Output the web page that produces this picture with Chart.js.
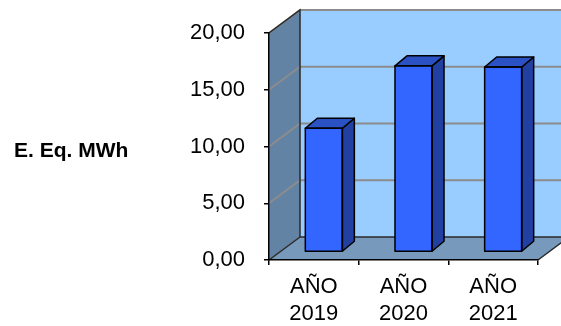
<!DOCTYPE html>
<html>
<head>
<meta charset="utf-8">
<script src="https://cdn.jsdelivr.net/npm/chart.js@4/dist/chart.umd.min.js"></script>
<style>
  html, body { margin: 0; padding: 0; background: #ffffff; }
  #wrap { width: 561px; height: 326px; }
</style>
</head>
<body>
<div id="wrap"><canvas id="c" width="561" height="326"></canvas></div>
<script>
// Energy per year
const categories = [['AÑO', '2019'], ['AÑO', '2020'], ['AÑO', '2021']];
const energyMWh = [10.9, 16.4, 16.3];
const yTicks = [0, 5, 10, 15, 20];
const axisTitle = 'E. Eq. MWh';

const FONT = "'Liberation Sans', Arial, Helvetica, sans-serif";

// Depth of the side wall / floor box, and of each bar
const WALL_DX = 31, WALL_DY = -23;
const BAR_SHIFT_X = 10, BAR_SHIFT_Y = -8;
const BAR_DX = 12, BAR_DY = -10;

const fmt = v => v.toFixed(2).replace('.', ',');

// Back wall, side wall and floor of the 3-D box
const wallsPlugin = {
  id: 'walls',
  beforeDraw(chart) {
    const { ctx, chartArea: a, scales: { y } } = chart;
    const L = a.left, R = a.right, T = a.top, B = a.bottom;
    ctx.save();
    ctx.lineJoin = 'miter';

    // back wall
    ctx.fillStyle = '#99CCFF';
    ctx.fillRect(L + WALL_DX, T + WALL_DY, R - L, B - T);

    // left side wall
    ctx.beginPath();
    ctx.moveTo(L, T);
    ctx.lineTo(L + WALL_DX, T + WALL_DY);
    ctx.lineTo(L + WALL_DX, B + WALL_DY);
    ctx.lineTo(L, B);
    ctx.closePath();
    ctx.fillStyle = '#6383A4';
    ctx.fill();

    // floor
    ctx.beginPath();
    ctx.moveTo(L, B);
    ctx.lineTo(L + WALL_DX, B + WALL_DY);
    ctx.lineTo(R + WALL_DX, B + WALL_DY);
    ctx.lineTo(R, B);
    ctx.closePath();
    ctx.fillStyle = '#7799BB';
    ctx.fill();

    // gridlines on side wall and back wall
    ctx.strokeStyle = '#8C8C8C';
    ctx.lineWidth = 2;
    yTicks.forEach(v => {
      if (v === yTicks[0]) return;
      const py = y.getPixelForValue(v);
      ctx.beginPath();
      ctx.moveTo(L, py);
      ctx.lineTo(L + WALL_DX, py + WALL_DY);
      ctx.lineTo(R + WALL_DX, py + WALL_DY);
      ctx.stroke();
    });

    // box edges
    ctx.strokeStyle = '#2A2A2A';
    ctx.lineWidth = 1.5;
    ctx.beginPath();
    ctx.moveTo(L, T);
    ctx.lineTo(L + WALL_DX, T + WALL_DY);
    ctx.lineTo(L + WALL_DX, B + WALL_DY);
    ctx.lineTo(R + WALL_DX, B + WALL_DY);
    ctx.moveTo(L + WALL_DX, B + WALL_DY);
    ctx.lineTo(L, B);
    ctx.moveTo(R, B);
    ctx.lineTo(R + WALL_DX, B + WALL_DY);
    ctx.stroke();
    ctx.restore();
  }
};

// Bars sit mid-depth in the box; add their top and side faces
const bars3dPlugin = {
  id: 'bars3d',
  beforeDatasetDraw(chart) {
    chart.ctx.save();
    chart.ctx.translate(BAR_SHIFT_X, BAR_SHIFT_Y);
  },
  afterDatasetDraw(chart, args) {
    const ctx = chart.ctx;
    ctx.lineJoin = 'round';
    ctx.lineWidth = 1.5;
    ctx.strokeStyle = '#000000';
    args.meta.data.forEach(bar => {
      const { x, y, base, width } = bar.getProps(['x', 'y', 'base', 'width'], true);
      const l = x - width / 2, r = x + width / 2;
      // side face
      ctx.beginPath();
      ctx.moveTo(r, y);
      ctx.lineTo(r + BAR_DX, y + BAR_DY);
      ctx.lineTo(r + BAR_DX, base + BAR_DY);
      ctx.lineTo(r, base);
      ctx.closePath();
      ctx.fillStyle = '#2240A2';
      ctx.fill();
      ctx.stroke();
      // top face
      ctx.beginPath();
      ctx.moveTo(l, y);
      ctx.lineTo(l + BAR_DX, y + BAR_DY);
      ctx.lineTo(r + BAR_DX, y + BAR_DY);
      ctx.lineTo(r, y);
      ctx.closePath();
      ctx.fillStyle = '#2A52C4';
      ctx.fill();
      ctx.stroke();
      // front outline
      ctx.strokeRect(l, y, width, base - y);
    });
    ctx.restore();
  }
};

// Horizontal value-axis title
const titlePlugin = {
  id: 'sideTitle',
  afterDraw(chart) {
    const ctx = chart.ctx;
    ctx.save();
    ctx.font = 'bold 21px ' + FONT;
    ctx.fillStyle = '#000000';
    ctx.textAlign = 'left';
    ctx.textBaseline = 'alphabetic';
    ctx.fillText(axisTitle, 14, 157);
    ctx.restore();
  }
};

Chart.defaults.font.family = FONT;
Chart.defaults.color = '#000000';

new Chart(document.getElementById('c'), {
  type: 'bar',
  data: {
    labels: categories,
    datasets: [{
      data: energyMWh,
      backgroundColor: '#3366FF',
      borderColor: '#000000',
      borderWidth: 0,
      barPercentage: 0.413,
      categoryPercentage: 1,
      clip: false
    }]
  },
  options: {
    responsive: false,
    animation: false,
    events: [],
    layout: { padding: { left: 0, right: 23, top: 33, bottom: 0 } },
    plugins: {
      legend: { display: false },
      tooltip: { enabled: false },
      title: { display: false }
    },
    scales: {
      x: {
        grid: { display: true, drawOnChartArea: false, drawTicks: true, tickLength: 5, color: '#000000', lineWidth: 1.5, offset: true },
        border: { display: true, color: '#000000', width: 1.5 },
        ticks: { font: { size: 22, lineHeight: 1.25 }, padding: 8, maxRotation: 0, autoSkip: false },
        afterFit(scale) { scale.height = 66; }
      },
      y: {
        min: yTicks[0],
        max: yTicks[yTicks.length - 1],
        afterBuildTicks(scale) { scale.ticks = yTicks.map(v => ({ value: v })); },
        grid: { display: true, drawOnChartArea: false, drawTicks: true, tickLength: 5, color: '#000000', lineWidth: 1.5 },
        border: { display: true, color: '#000000', width: 1.5 },
        ticks: { font: { size: 22 }, padding: 19, callback: v => fmt(v) },
        afterFit(scale) { scale.width = 269; }
      }
    }
  },
  plugins: [wallsPlugin, bars3dPlugin, titlePlugin]
});
</script>
</body>
</html>
